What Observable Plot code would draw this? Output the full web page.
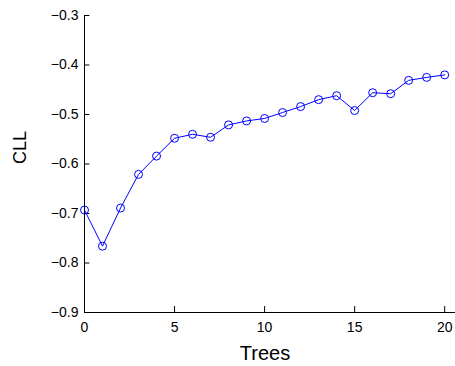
<!DOCTYPE html>
<html>
<head>
<meta charset="utf-8">
<script src="https://cdn.jsdelivr.net/npm/d3@7"></script>
<script src="https://cdn.jsdelivr.net/npm/@observablehq/plot@0.6"></script>
<style>
  html, body { margin: 0; padding: 0; background: #fff; }
  svg { display: block; }
</style>
</head>
<body>
<div id="chart"></div>
<script>
const trees = [0,1,2,3,4,5,6,7,8,9,10,11,12,13,14,15,16,17,18,19,20];
const cll = [-0.693,-0.766,-0.689,-0.621,-0.584,-0.548,-0.540,-0.546,-0.521,-0.513,-0.508,-0.496,-0.484,-0.470,-0.462,-0.492,-0.456,-0.458,-0.431,-0.425,-0.420];
const xTicks = [0,5,10,15,20];
const yTicks = [-0.9,-0.8,-0.7,-0.6,-0.5,-0.4,-0.3];

const data = trees.map((t, i) => ({trees: t, cll: cll[i]}));
const fmt = d3.format(".1f");

const plot = Plot.plot({
  width: 455,
  height: 366,
  marginLeft: 84,
  marginRight: 0,
  marginTop: 15,
  marginBottom: 54,
  style: {fontFamily: "'Liberation Sans', Arial, Helvetica, sans-serif", background: "#fff"},
  x: {domain: [0, 20.6]},
  y: {domain: [-0.9, -0.3]},
  marks: [
    Plot.ruleY([-0.9], {stroke: "#000", strokeWidth: 1}),
    Plot.ruleX([0], {stroke: "#000", strokeWidth: 1}),
    Plot.ruleX(xTicks, {x: d => d, y1: -0.9, y2: -0.9 + 0.012, stroke: "#000"}),
    Plot.ruleY(yTicks, {y: d => d, x1: 0, x2: 0.3, stroke: "#000"}),
    Plot.axisX(xTicks, {tickSize: 0, tickPadding: 10, fontSize: 14, fill: "#000", label: null}),
    Plot.axisY(yTicks, {tickSize: 0, tickPadding: 6, fontSize: 14, fill: "#000", label: null, tickFormat: d => fmt(d)}),
    Plot.line(data, {x: "trees", y: "cll", stroke: "#0000ff", strokeWidth: 1}),
    Plot.dot(data, {x: "trees", y: "cll", r: 4, stroke: "#0000ff", fill: "none", strokeWidth: 1}),
    Plot.text(["CLL"], {frameAnchor: "left", dx: -64, rotate: -90, fontSize: 18, fill: "#000"}),
    Plot.text(["Trees"], {frameAnchor: "bottom", dy: 47, dx: -5, fontSize: 20, fill: "#000"})
  ]
});
document.getElementById("chart").appendChild(plot);
</script>
</body>
</html>
